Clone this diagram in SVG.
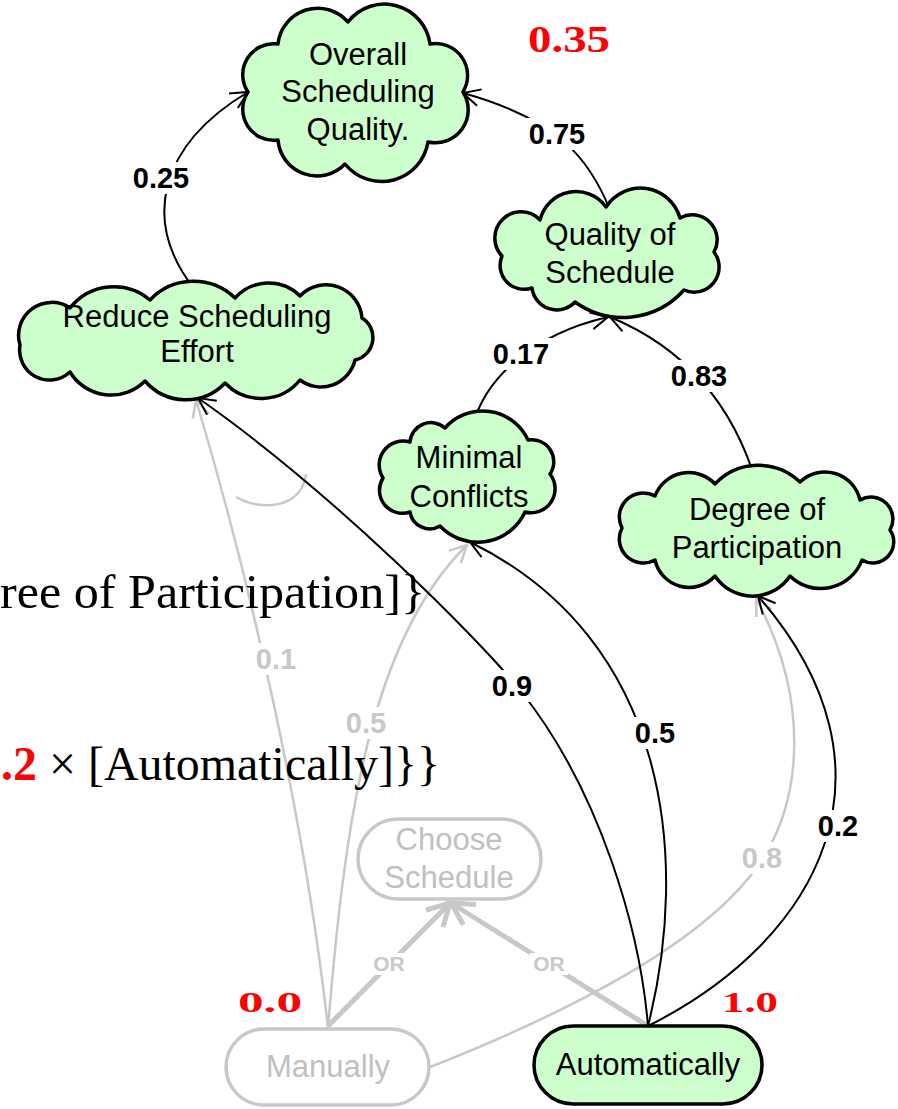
<svg xmlns="http://www.w3.org/2000/svg" width="898" height="1109" viewBox="0 0 898 1109">
  <style>
    .cloud { fill: #ccffcc; stroke: #000; stroke-width: 3.5; stroke-linejoin: round; }
    .task-gray { fill: #fff; stroke: #c8c8c8; stroke-width: 3.5; }
    .task-on { fill: #ccffcc; stroke: #000; stroke-width: 3.5; }
    .nt { font-family: "Liberation Sans", Arial, sans-serif; font-size: 31px; fill: #000; text-anchor: middle; }
    .nt-gray { fill: #c0c0c0; }
    .edge { fill: none; stroke: #000; stroke-width: 2; }
    .edge-gray { fill: none; stroke: #c8c8c8; stroke-width: 2.5; }
    .edge-or { fill: none; stroke: #c8c8c8; stroke-width: 5; }
    .bg { fill: #fff; stroke: none; }
    .lbl { font-family: "Liberation Sans", Arial, sans-serif; font-weight: bold; font-size: 29px; text-anchor: middle; fill: #000; }
    .lbl-gray { fill: #c8c8c8; }
    .lbl-or { font-size: 21px; }
    .val { font-family: "Liberation Serif", "Times New Roman", serif; font-weight: bold; fill: #ff0000; }
    .formula { font-family: "Liberation Serif", "Times New Roman", serif; font-size: 48px; fill: #000; }
  </style>
  <defs>
    <marker id="arr" markerUnits="userSpaceOnUse" markerWidth="40" markerHeight="40" refX="0" refY="0" orient="auto" overflow="visible">
      <path d="M-17,-8.5 L0,0 L-17,8.5" fill="none" stroke="#000" stroke-width="2"/>
    </marker>
    <marker id="arr-gray" markerUnits="userSpaceOnUse" markerWidth="40" markerHeight="40" refX="0" refY="0" orient="auto" overflow="visible">
      <path d="M-17,-8.5 L0,0 L-17,8.5" fill="none" stroke="#c8c8c8" stroke-width="2.5"/>
    </marker>
    <marker id="arr-or" markerUnits="userSpaceOnUse" markerWidth="60" markerHeight="60" refX="0" refY="0" orient="auto" overflow="visible">
      <path d="M-22,-12 L0,0 L-22,12" fill="none" stroke="#c8c8c8" stroke-width="5"/>
    </marker>
  </defs>

  <!-- connectors -->
  <g id="connectors">
    <!-- contributions from the unselected alternative -->
    <path class="edge-gray" d="M328,1028 C305,820 250,580 196,400" marker-end="url(#arr-gray)"/>
    <path class="edge-gray" d="M328,1028 C345,820 370,640 467,545" marker-end="url(#arr-gray)"/>
    <path class="edge-gray" d="M430,1067 C600,1000 720,930 765,855 C801,795 810,700 756,598" marker-end="url(#arr-gray)"/>
    <path class="edge-gray" d="M236,497 C262,512 302,508 306,474"/>
    <!-- OR decomposition -->
    <path class="edge-or" d="M328,1026 L450,903" marker-end="url(#arr-or)"/>
    <path class="edge-or" d="M648,1026 L451,903" marker-end="url(#arr-or)"/>
    <!-- contributions from the selected alternative -->
    <path class="edge" d="M648,1026 C640,930 600,790 520,690 C480,640 330,490 198,398" marker-end="url(#arr)"/>
    <path class="edge" d="M648,1026 C690,860 670,640 470,542" marker-end="url(#arr)"/>
    <path class="edge" d="M648,1026 C820,940 910,770 758,596" marker-end="url(#arr)"/>
    <!-- softgoal contributions -->
    <path class="edge" d="M195,290 C140,220 160,145 248,92" marker-end="url(#arr)"/>
    <path class="edge" d="M610,210 C590,160 560,120 463,93" marker-end="url(#arr)"/>
    <path class="edge" d="M473,425 C485,380 530,335 608,317" marker-end="url(#arr)"/>
    <path class="edge" d="M757,485 C735,410 690,350 610,317" marker-end="url(#arr)"/>

    <!-- label backgrounds -->
    <rect class="bg" x="129" y="162" width="64" height="32"/>
    <rect class="bg" x="525" y="118" width="64" height="32"/>
    <rect class="bg" x="489" y="338" width="64" height="32"/>
    <rect class="bg" x="667" y="360" width="64" height="32"/>
    <rect class="bg" x="488" y="670" width="48" height="32"/>
    <rect class="bg" x="631" y="717" width="48" height="32"/>
    <rect class="bg" x="814" y="810" width="48" height="32"/>
    <rect class="bg" x="252" y="643" width="48" height="32"/>
    <rect class="bg" x="342" y="707" width="48" height="32"/>
    <rect class="bg" x="738" y="842" width="48" height="32"/>
    <rect class="bg" x="370" y="953" width="38" height="22"/>
    <rect class="bg" x="530" y="953" width="38" height="22"/>

    <text class="lbl" x="161" y="188">0.25</text>
    <text class="lbl" x="557" y="144">0.75</text>
    <text class="lbl" x="521" y="364">0.17</text>
    <text class="lbl" x="699" y="386">0.83</text>
    <text class="lbl" x="512" y="696">0.9</text>
    <text class="lbl" x="655" y="743">0.5</text>
    <text class="lbl" x="838" y="836">0.2</text>
    <text class="lbl lbl-gray" x="276" y="669">0.1</text>
    <text class="lbl lbl-gray" x="366" y="733">0.5</text>
    <text class="lbl lbl-gray" x="762" y="868">0.8</text>
    <text class="lbl lbl-gray lbl-or" x="389" y="971">OR</text>
    <text class="lbl lbl-gray lbl-or" x="549" y="971">OR</text>
  </g>

  <!-- softgoals -->
  <g id="overall-quality">
    <path class="cloud" d="M248,92 A31,31 0 0 1 278,44 A40,40 0 0 1 348,22 A46,46 0 0 1 430,44 A32,32 0 0 1 463,92 A33,33 0 0 1 428,142 A47,47 0 0 1 345,164 A39,39 0 0 1 278,140 A31,31 0 0 1 248,92 Z"/>
    <text class="nt" x="358" y="65">Overall</text>
    <text class="nt" x="358" y="102">Scheduling</text>
    <text class="nt" x="358" y="140">Quality.</text>
  </g>

  <g id="quality-of-schedule">
    <path class="cloud" d="M502,256 A25,25 0 0 1 540,220 A37,37 0 0 1 606,207 A41,41 0 0 1 680,218 A25,25 0 0 1 714,252 A25,25 0 0 1 684,290 A82,82 0 0 1 575,302 A25,25 0 0 1 532,288 A24,24 0 0 1 502,256 Z"/>
    <text class="nt" x="610" y="245">Quality of</text>
    <text class="nt" x="610" y="283">Schedule</text>
  </g>

  <g id="reduce-effort">
    <path class="cloud" d="M20,345 A33,33 0 0 1 70,308 A56,56 0 0 1 150,300 A60,60 0 0 1 235,298 A45,45 0 0 1 300,296 A36,36 0 0 1 362,318 A23,23 0 0 1 355,360 A35,35 0 0 1 300,380 A50,50 0 0 1 225,383 A54,54 0 0 1 145,381 A48,48 0 0 1 70,372 A30,30 0 0 1 20,345 Z"/>
    <text class="nt" x="197" y="327">Reduce Scheduling</text>
    <text class="nt" x="197" y="362">Effort</text>
  </g>

  <g id="minimal-conflicts">
    <path class="cloud" d="M383,478 A24,24 0 0 1 410,442 A21,21 0 0 1 445,428 A50,50 0 0 1 528,440 A22,22 0 0 1 550,474 A24,24 0 0 1 525,512 A52,52 0 0 1 440,526 A20,20 0 0 1 410,512 A23,23 0 0 1 383,478 Z"/>
    <text class="nt" x="469" y="468">Minimal</text>
    <text class="nt" x="469" y="507">Conflicts</text>
  </g>

  <g id="degree-participation">
    <path class="cloud" d="M622,528 A24,24 0 0 1 655,496 A36,36 0 0 1 715,484 A60,60 0 0 1 800,482 A36,36 0 0 1 860,500 A22,22 0 0 1 890,530 A21,21 0 0 1 862,560 A44,44 0 0 1 790,576 A45,45 0 0 1 715,576 A35,35 0 0 1 655,560 A24,24 0 0 1 622,528 Z"/>
    <text class="nt" x="757" y="520">Degree of</text>
    <text class="nt" x="757" y="558">Participation</text>
  </g>

  <!-- tasks -->
  <g id="choose-schedule">
    <rect class="task-gray" x="358" y="819" width="183" height="80" rx="40"/>
    <text class="nt nt-gray" x="449" y="850">Choose</text>
    <text class="nt nt-gray" x="449" y="888">Schedule</text>
  </g>

  <g id="manually">
    <rect class="task-gray" x="226" y="1029" width="203" height="76" rx="38"/>
    <text class="nt nt-gray" x="328" y="1077">Manually</text>
  </g>

  <g id="automatically">
    <rect class="task-on" x="534" y="1026" width="228" height="78" rx="39"/>
    <text class="nt" x="648" y="1075">Automatically</text>
  </g>

  <!-- evaluated values -->
  <text class="val" x="528" y="52" font-size="38" textLength="82" lengthAdjust="spacingAndGlyphs">0.35</text>
  <text class="val" x="238" y="1012" font-size="30" textLength="64" lengthAdjust="spacingAndGlyphs">0.0</text>
  <text class="val" x="722" y="1012" font-size="30" textLength="56" lengthAdjust="spacingAndGlyphs">1.0</text>

  <!-- formula fragments -->
  <text class="formula" x="0" y="608" textLength="425" lengthAdjust="spacingAndGlyphs">ree of Participation]}</text>
  <text class="formula" x="1" y="780" textLength="439" lengthAdjust="spacingAndGlyphs"><tspan fill="#ff0000" font-weight="bold">.2</tspan> × [Automatically]}}</text>
</svg>
